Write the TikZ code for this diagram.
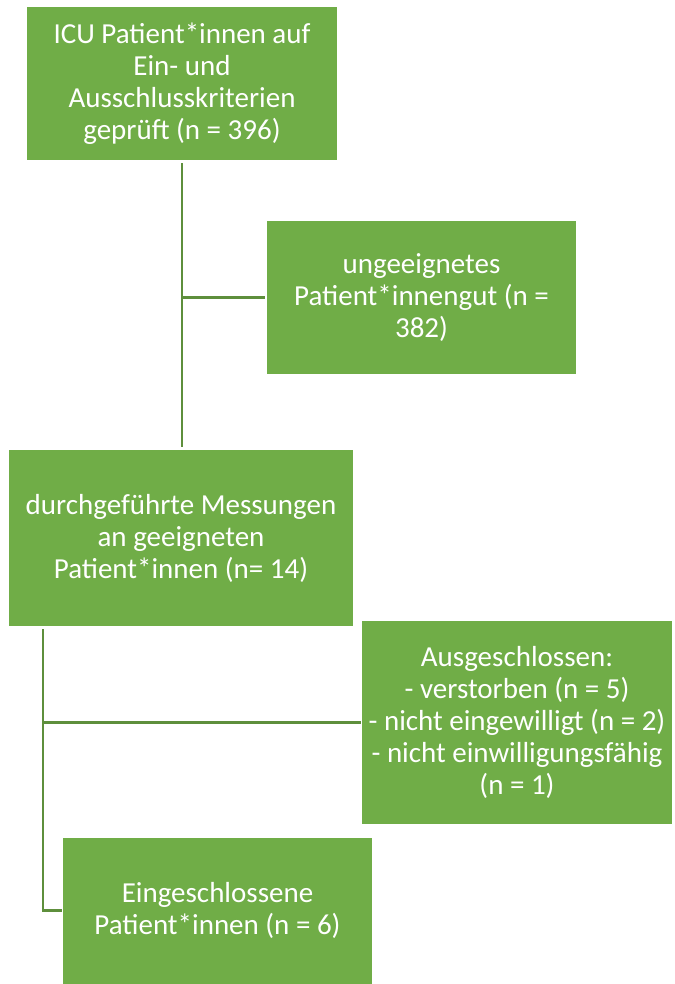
\documentclass[tikz,border=0pt]{standalone}
\usepackage{fontspec}
\setmainfont{Carlito}
\usetikzlibrary{calc, positioning}

\begin{document}
\begin{tikzpicture}[x=1pt, y=-1pt]

    \definecolor{boxColour}{HTML}{70AD47}
    \definecolor{lineColour}{HTML}{5E8F3C}

    % Define the box and connector styles
    \tikzset{
        flowbox/.style={rectangle, fill=boxColour, text=white, align=center,
            inner sep=0pt, font=\fontsize{29}{32}\selectfont},
        link/.style={draw=lineColour, line width=2.2pt}
    }

    % Fix the page size
    \useasboundingbox (0,0) rectangle (674,984);

    % Draw the boxes
    \node[flowbox, minimum width=310pt, minimum height=153pt] (top) at (182,83.5)
        {ICU Patient*innen auf\\Ein- und\\Ausschlusskriterien\\geprüft (n = 396)};
    \node[flowbox, minimum width=309pt, minimum height=153pt] (unfit) at (421.5,297.5)
        {ungeeignetes\\Patient*innengut (n =\\382)};
    \node[flowbox, minimum width=344pt, minimum height=176pt] (meas) at (181,538)
        {durchgeführte Messungen\\an geeigneten\\Patient*innen (n= 14)};
    \node[flowbox, minimum width=310pt, minimum height=203pt] (excl) at (517,722.5)
        {Ausgeschlossen:\\- verstorben (n = 5)\\- nicht eingewilligt (n = 2)\\- nicht einwilligungsfähig\\(n = 1)};
    \node[flowbox, minimum width=309pt, minimum height=146pt] (incl) at (217.5,910.5)
        {Eingeschlossene\\Patient*innen (n = 6)};

    % Define the connector corners
    \coordinate (trunkA) at ($(top.south)+(0,3)$);
    \coordinate (trunkB) at (43,629);

    % Draw the connectors
    \draw[link] (trunkA) -- ($(trunkA |- meas.north)+(0,-3)$);
    \draw[link] (trunkA |- unfit.west) -- ($(unfit.west)+(-2,0)$);
    \draw[link] (trunkB) -- (trunkB |- incl.west) -- ($(incl.west)+(-1,0)$);
    \draw[link] (trunkB |- excl.west) -- ($(excl.west)+(-1,0)$);

\end{tikzpicture}
\end{document}
